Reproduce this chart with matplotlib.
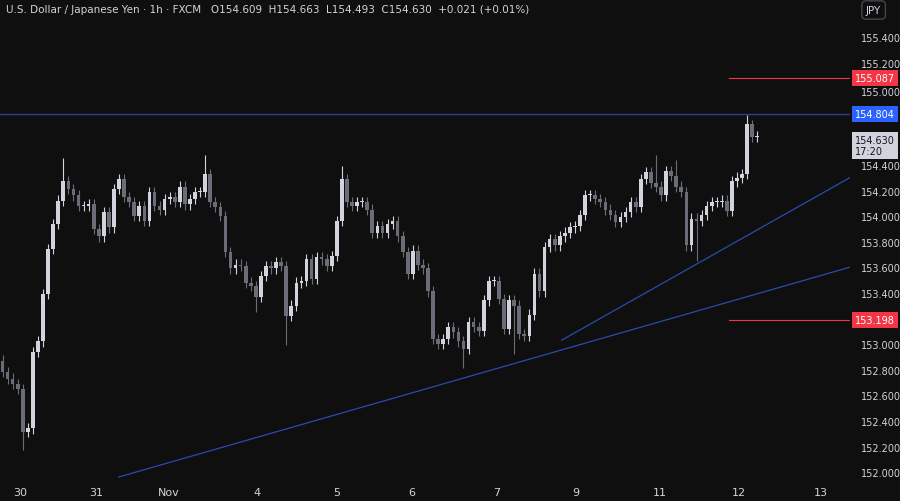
import matplotlib.pyplot as plt
from matplotlib.patches import Rectangle

# hourly closes (approx), USD/JPY
closes = [
    152.79, 152.74, 152.70, 152.66, 152.32, 152.35, 152.95, 153.03, 153.40, 153.75,
    153.95, 154.13, 154.28, 154.22, 154.17, 154.09, 154.09, 154.10, 153.91, 153.85,
    154.04, 153.92, 154.22, 154.30, 154.16, 154.12, 154.01, 154.09, 153.97, 154.20,
    154.09, 154.06, 154.14, 154.16, 154.12, 154.24, 154.10, 154.14, 154.20, 154.20,
    154.34, 154.12, 154.08, 154.01, 153.73, 153.60, 153.63,
    153.62, 153.49, 153.46, 153.38, 153.54, 153.62, 153.60, 153.65, 153.62, 153.23,
    153.31, 153.49, 153.50, 153.67, 153.52, 153.69, 153.67, 153.62, 153.70, 153.97,
    154.30, 154.12, 154.09, 154.12, 154.12, 154.06, 153.88, 153.93, 153.88, 153.95,
    153.97, 153.85, 153.73, 153.56, 153.74, 153.63, 153.60, 153.42, 153.05, 153.01,
    153.05, 153.14, 153.10, 153.03, 152.97, 153.18, 153.14, 153.11, 153.35, 153.50,
    153.50, 153.36, 153.13, 153.35, 153.31, 153.09, 153.07, 153.24, 153.56, 153.42,
    153.77, 153.83, 153.78, 153.85, 153.88, 153.92, 153.93, 154.02, 154.17, 154.17,
    154.14, 154.12, 154.06, 154.02, 153.96, 154.00, 154.04, 154.12, 154.08, 154.30,
    154.35, 154.27, 154.24, 154.17, 154.36, 154.32, 154.24, 154.20, 153.78, 153.99,
    153.97, 154.02, 154.09, 154.12, 154.12, 154.13, 154.05, 154.28, 154.31, 154.34,
    154.73, 154.63, 154.63,
]
first_open = 152.88
# notable wick extremes: candle index -> price
high_marks = {12: 154.46, 40: 154.49, 67: 154.40, 129: 154.49, 133: 154.45, 147: 154.80, 148: 154.76}
low_marks = {4: 152.18, 50: 153.26, 56: 153.00, 91: 152.82, 101: 152.93, 137: 153.66}

day_labels = ["30", "31", "Nov", "4", "5", "6", "7", "9", "11", "12", "13"]
day_pos = [3.5, 18.4, 32.9, 50.2, 65.9, 80.8, 97.5, 113.2, 129.8, 145.3, 161.6]
price_ticks = [152.0 + 0.2 * i for i in range(18)]

resistance = 154.804
targets = [155.087, 153.198]
trend_lo = [(22.9, 151.97), (167.3, 153.61)]
trend_hi = [(110.4, 153.04), (167.3, 154.31)]

bg = "#0f0f0f"
up_c, dn_c = "#d1d4dc", "#6a6d78"
txt = "#d1d4dc"

fig = plt.figure(figsize=(9, 5.02), dpi=100, facecolor=bg)
ax = fig.add_axes([0, 22 / 502, 850 / 900, 1 - 22 / 502], facecolor=bg)
ymin, ymax = 151.955, 155.705
ax.set_ylim(ymin, ymax)
ax.set_xlim(-0.5, 167.3)

opens = [first_open] + closes[:-1]
for i, (o, c) in enumerate(zip(opens, closes)):
    col = up_c if c >= o else dn_c
    hi = high_marks.get(i, max(o, c) + 0.04)
    lo = low_marks.get(i, min(o, c) - 0.04)
    ax.vlines(i, lo, hi, color=col, lw=0.8)
    h = max(abs(c - o), 0.008)
    ax.add_patch(Rectangle((i - 0.36, min(o, c)), 0.72, h, color=col, lw=0))

ax.axhline(resistance, color="#2a3f8f", lw=1)
for t in targets:
    ax.plot([143.5, 167.3], [t, t], color="#f23645", lw=0.8)
for ln in (trend_lo, trend_hi):
    ax.plot([p[0] for p in ln], [p[1] for p in ln], color="#2a4bb0", lw=0.9)

for s in ax.spines.values():
    s.set_visible(False)
ax.set_yticks([])
ax.set_xticks(day_pos)
ax.set_xticklabels(day_labels, color=txt, fontsize=8)
ax.tick_params(axis="x", length=0, pad=6)

# right price scale
def yfig(p):
    return 22 / 502 + (p - ymin) / (ymax - ymin) * (1 - 22 / 502)

fs = 7
skip = [155.0, 154.8, 154.6, 153.2]
for p in price_ticks:
    if any(abs(p - s) < 0.01 for s in skip):
        continue
    fig.text(861 / 900, yfig(p), f"{p:.3f}", color=txt, fontsize=fs, va="center")
fig.text(861 / 900, yfig(155.0) - 3 / 502, "155.000", color=txt, fontsize=fs, va="center")
boxes = [(155.087, "155.087", "#f23645"), (154.804, "154.804", "#2962ff"),
         (153.198, "153.198", "#f23645")]
for p, lab, fc in boxes:
    fig.text(855 / 900, yfig(p), lab, color="white", fontsize=fs, va="center",
             bbox=dict(boxstyle="square,pad=0.3", fc=fc, ec="none"))
fig.text(855 / 900, yfig(154.56), "154.630\n17:20", color="#131722", fontsize=fs, va="center",
         linespacing=1.1, bbox=dict(boxstyle="square,pad=0.3", fc="#d1d4dc", ec="none"))
fig.text(866 / 900, 1 - 11 / 502, "JPY", color=txt, fontsize=7.5, va="center",
         bbox=dict(boxstyle="round,pad=0.4", fc=bg, ec="#434651"))

fig.text(6 / 900, 1 - 10 / 502,
         "U.S. Dollar / Japanese Yen · 1h · FXCM   O154.609  H154.663  L154.493  C154.630  +0.021 (+0.01%)",
         color=txt, fontsize=7.5, va="center")

fig.savefig("out.png", facecolor=bg)
